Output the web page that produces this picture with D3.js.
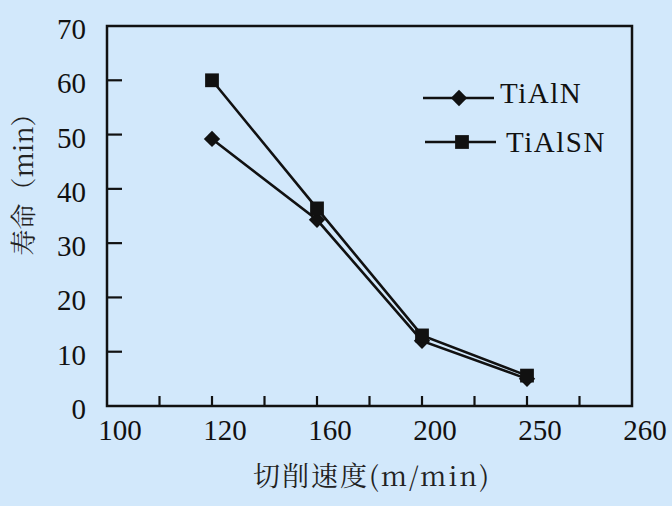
<!DOCTYPE html>
<html>
<head>
<meta charset="utf-8">
<script src="https://cdn.jsdelivr.net/npm/d3@7/dist/d3.min.js"></script>
<style>
html,body{margin:0;padding:0;background:#d2e8fb;}
svg{display:block;}
</style>
</head>
<body>
<svg id="chart" width="672" height="506"></svg>
<script>
// ---- data ----
const xTickLabels = ["100", "120", "160", "200", "250", "260"];
const speeds = ["120", "160", "200", "250"];
const tialn = [49.2, 34.3, 12.0, 5.0];
const tialsn = [60.0, 36.4, 13.0, 5.6];
const yTicks = [0, 10, 20, 30, 40, 50, 60, 70];
const seriesNames = ["TiAlN", "TiAlSN"];
const xTitle = "切削速度(m/min)";
const yTitle = "寿命（min）";

// ---- layout ----
const L = 107, R = 632, T = 26, B = 406;
const svg = d3.select("#chart");
svg.append("rect").attr("width", 672).attr("height", 506).attr("fill", "#d2e8fb");

const x = d3.scalePoint().domain(xTickLabels).range([L, R]);
const y = d3.scaleLinear().domain([0, 70]).range([B, T]);
const step = x.step();

const serif = "'Liberation Serif', 'Times New Roman', serif";
const cjk = "'Noto Serif CJK SC', 'Liberation Serif', serif";
const ink = "#111";

// frame
svg.append("rect").attr("x", L).attr("y", T).attr("width", R - L).attr("height", B - T)
  .attr("fill", "none").attr("stroke", ink).attr("stroke-width", 2.5);

// x ticks (all positions incl. minor midpoints, inner)
const xTickPos = [];
xTickLabels.forEach((d, i) => {
  if (i > 0 && i < xTickLabels.length - 1) xTickPos.push(x(d));
  if (i < xTickLabels.length - 1) xTickPos.push(x(d) + step / 2);
});
svg.append("g").selectAll("line").data(xTickPos).join("line")
  .attr("x1", d => d).attr("x2", d => d).attr("y1", B).attr("y2", B - 10)
  .attr("stroke", ink).attr("stroke-width", 2.2);

svg.append("g").selectAll("text").data(xTickLabels).join("text")
  .attr("x", d => x(d) + 13).attr("y", 440)
  .attr("text-anchor", "middle").style("font-family", serif).style("font-size", "29px")
  .attr("fill", ink).text(d => d);

// y ticks
svg.append("g").selectAll("line").data(yTicks.filter(d => d > 0 && d < 70)).join("line")
  .attr("x1", L).attr("x2", L + 15).attr("y1", d => y(d)).attr("y2", d => y(d))
  .attr("stroke", ink).attr("stroke-width", 2.2);

svg.append("g").selectAll("text").data(yTicks).join("text")
  .attr("x", 86).attr("y", d => y(d) + 13)
  .attr("text-anchor", "end").style("font-family", serif).style("font-size", "29px")
  .attr("fill", ink).text(d => d);

// titles
svg.append("text").attr("x", 372).attr("y", 486).attr("text-anchor", "middle")
  .style("font-family", cjk).style("font-size", "27px")
  .attr("letter-spacing", 2).attr("fill", "#222").text(xTitle);

svg.append("text").attr("transform", "translate(33,178) rotate(-90)")
  .attr("text-anchor", "middle")
  .style("font-family", cjk).style("font-size", "26px")
  .attr("fill", "#222").text(yTitle);

// series
const line = d3.line().x((d, i) => x(speeds[i])).y(d => y(d));
const diamond = d3.symbol().type(d3.symbolDiamond2).size(170);
const square = d3.symbol().type(d3.symbolSquare).size(190);

function drawSeries(vals, sym) {
  svg.append("path").datum(vals).attr("d", line)
    .attr("fill", "none").attr("stroke", ink).attr("stroke-width", 2.6);
  svg.append("g").selectAll("path").data(vals).join("path")
    .attr("transform", (d, i) => `translate(${x(speeds[i])},${y(d)})`)
    .attr("d", sym).attr("fill", ink);
}
drawSeries(tialn, diamond);
drawSeries(tialsn, square);

// legend
const legY = [98, 142];
const syms = [diamond, square];
seriesNames.forEach((n, i) => {
  const g = svg.append("g");
  g.append("line").attr("x1", 423 + i * 2).attr("x2", 494 + i * 2).attr("y1", legY[i]).attr("y2", legY[i])
    .attr("stroke", ink).attr("stroke-width", 2.6);
  g.append("path").attr("transform", `translate(${459 + i * 3},${legY[i]})`).attr("d", syms[i]).attr("fill", ink);
  g.append("text").attr("x", 500 + i * 6).attr("y", legY[i] + 5 + i * 5)
    .style("font-family", serif).style("font-size", "29px").attr("letter-spacing", 1.5)
    .attr("fill", ink).text(n);
});
</script>
</body>
</html>
